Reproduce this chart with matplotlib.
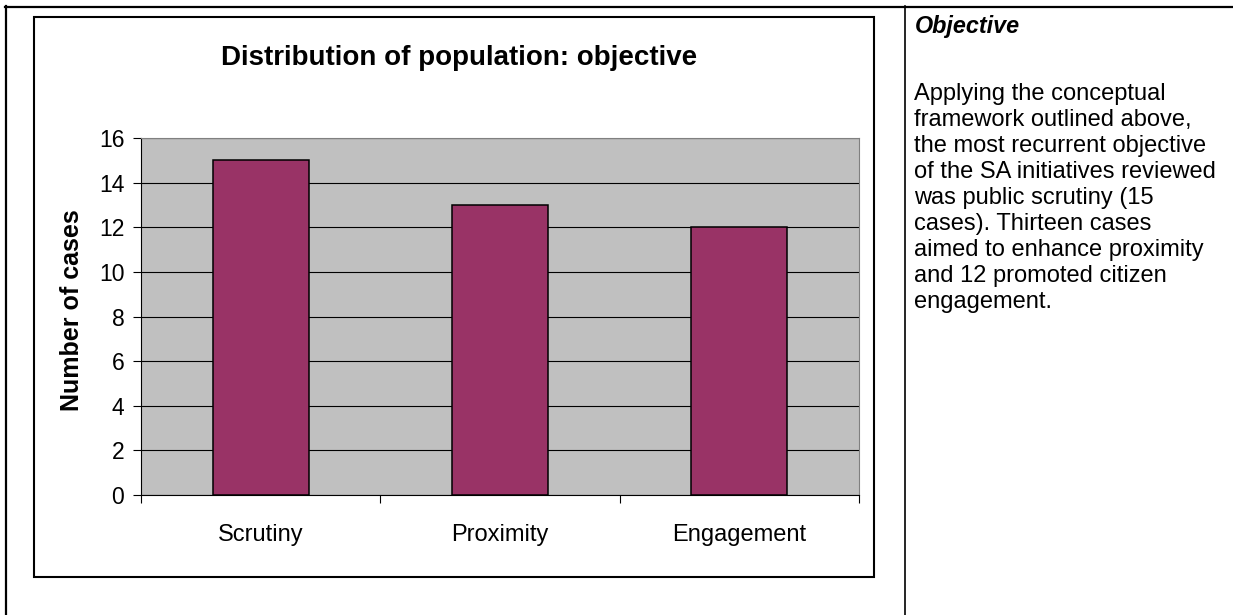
import matplotlib.pyplot as plt
from matplotlib.patches import Rectangle
from matplotlib.lines import Line2D

plt.rcParams["font.family"] = ["Liberation Sans", "DejaVu Sans"]

categories = ["Scrutiny", "Proximity", "Engagement"]
cases = [15, 13, 12]
y_ticks = [0, 2, 4, 6, 8, 10, 12, 14, 16]

title = "Distribution of population: objective"
side_heading = "Objective"
side_lines = [
    "Applying the conceptual",
    "framework outlined above,",
    "the most recurrent objective",
    "of the SA initiatives reviewed",
    "was public scrutiny (15",
    "cases). Thirteen cases",
    "aimed to enhance proximity",
    "and 12 promoted citizen",
    "engagement.",
]

W, H = 1233, 615
fig = plt.figure(figsize=(W / 100, H / 100), dpi=100)


def fx(px):
    return px / W


def fy(py):
    return 1 - py / H


# table lines around the chart and the text column
fig.add_artist(Line2D([fx(5), 1], [fy(6.5), fy(6.5)], color="black", lw=1.6))
fig.add_artist(Line2D([fx(5.5), fx(5.5)], [fy(6), 0], color="black", lw=1.6))
fig.add_artist(Line2D([fx(905), fx(905)], [fy(6), 0], color="black", lw=1.2))

# chart frame
fig.add_artist(Rectangle((fx(34), fy(577)), fx(874) - fx(34), fy(17) - fy(577),
                         fill=False, edgecolor="black", lw=1.5))

fig.text(fx(459), fy(65), title, ha="center", va="baseline",
         fontsize=20, fontweight="bold")

ax = fig.add_axes([fx(141), fy(495), fx(859) - fx(141), fy(138) - fy(495)])
ax.set_facecolor("#c0c0c0")
x = list(range(len(categories)))
ax.bar(x, cases, width=0.4, color="#993366", edgecolor="black", lw=1.1, zorder=3)
ax.set_xlim(-0.5, len(categories) - 0.5)
ax.set_ylim(0, 16)
ax.set_yticks(y_ticks)
ax.set_yticklabels([str(v) for v in y_ticks], fontsize=16.5)
ax.yaxis.grid(True, color="black", lw=0.8, zorder=1)
ax.set_axisbelow(True)

ax.set_xticks(x)
ax.set_xticklabels(categories, fontsize=17)
ax.tick_params(axis="x", length=0, pad=21)
ax.set_xticks([i + 0.5 for i in range(-1, len(categories))], minor=True)
ax.tick_params(axis="x", which="minor", length=6, direction="out", width=0.8)
ax.tick_params(axis="y", length=6, direction="out", width=0.8, pad=6)

ax.spines["left"].set_color("black")
ax.spines["bottom"].set_color("black")
ax.spines["top"].set_color("#808080")
ax.spines["right"].set_color("#808080")
for s in ax.spines.values():
    s.set_linewidth(0.8)

ax.set_ylabel("Number of cases", fontsize=18, fontweight="bold")
ax.yaxis.set_label_coords((84 - 141) / 718, (495 - 310) / 357)

fig.text(fx(915), fy(33), side_heading, ha="left", va="baseline",
         fontsize=16.8, fontweight="bold", fontstyle="italic")
for i, line in enumerate(side_lines):
    fig.text(fx(914), fy(100 + i * 26), line, ha="left", va="baseline",
             fontsize=17)

fig.savefig("out.png", dpi=100)
